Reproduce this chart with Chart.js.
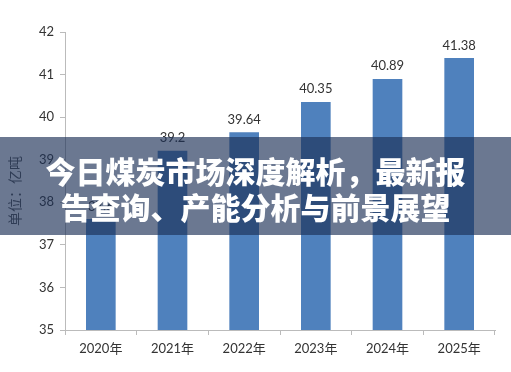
<!DOCTYPE html>
<html><head><meta charset="utf-8">
<script src="https://cdn.jsdelivr.net/npm/chart.js@4/dist/chart.umd.min.js"></script>
<style>
html,body{margin:0;padding:0;background:#fff;}
#wrap{position:relative;width:511px;height:372px;overflow:hidden;}
canvas{position:absolute;left:0;top:0;}
#banner{position:absolute;left:0;top:137px;width:511px;height:98px;background:rgba(28,47,86,0.65);
display:flex;flex-direction:column;justify-content:center;align-items:center;color:#fff;
font-family:"Noto Sans CJK SC",sans-serif;font-weight:900;font-size:30px;line-height:36px;text-align:center;padding-top:3px;box-sizing:border-box;}
</style></head>
<body><div id="wrap"><canvas id="c" width="511" height="372"></canvas>
<div id="banner"><div>今日煤炭市场深度解析，最新报</div><div>告查询、产能分析与前景展望</div></div></div>
<script>
const categories = ["2020年","2021年","2022年","2023年","2024年","2025年"];
const values = [37.6, 39.2, 39.64, 40.35, 40.89, 41.38];
const valueLabels = ["37.6","39.2","39.64","40.35","40.89","41.38"];
const yTitle = "单位：亿吨";
const FONT = 'Lato, "Noto Sans CJK SC", sans-serif';

const labelPlugin = {
  id:'vlabels',
  afterDatasetsDraw(chart){
    const ctx = chart.ctx;
    const meta = chart.getDatasetMeta(0);
    ctx.save();
    ctx.font = '13px ' + FONT;
    ctx.fillStyle = '#333';
    ctx.textAlign = 'center';
    ctx.textBaseline = 'middle';
    meta.data.forEach((bar,i)=>{
      ctx.fillText(valueLabels[i], bar.x, bar.y - 13);
    });
    // y-axis title
    ctx.save();
    ctx.translate(15, chart.chartArea.top + (chart.chartArea.bottom - chart.chartArea.top)/2 + 10);
    ctx.rotate(-Math.PI/2);
    ctx.font = '14px ' + FONT;
    ctx.fillStyle = '#555';
    ctx.fillText(yTitle, 0, 0);
    ctx.restore();
    ctx.restore();
  }
};

new Chart(document.getElementById('c'), {
  type:'bar',
  data:{labels:categories, datasets:[{data:values, backgroundColor:'#4f81bd', barThickness:29}]},
  options:{
    responsive:false, animation:false,
    layout:{padding:{top:32,right:16,left:0,bottom:0}},
    plugins:{legend:{display:false},tooltip:{enabled:false}},
    scales:{
      y:{min:35,max:42,
        ticks:{stepSize:1,color:'#333',font:{family:FONT,size:13},padding:6},
        grid:{drawOnChartArea:false,drawTicks:true,tickLength:5,color:'#bbb'},
        border:{color:'#bbb'},
        afterFit(s){s.width=65;}
      },
      x:{
        ticks:{color:'#333',font:{family:FONT,size:13},padding:6},
        grid:{drawOnChartArea:false,drawTicks:true,tickLength:5,color:'#bbb',offset:true},
        border:{color:'#bbb'},
        afterFit(s){s.height=42;}
      }
    }
  },
  plugins:[labelPlugin]
});
</script></body></html>
